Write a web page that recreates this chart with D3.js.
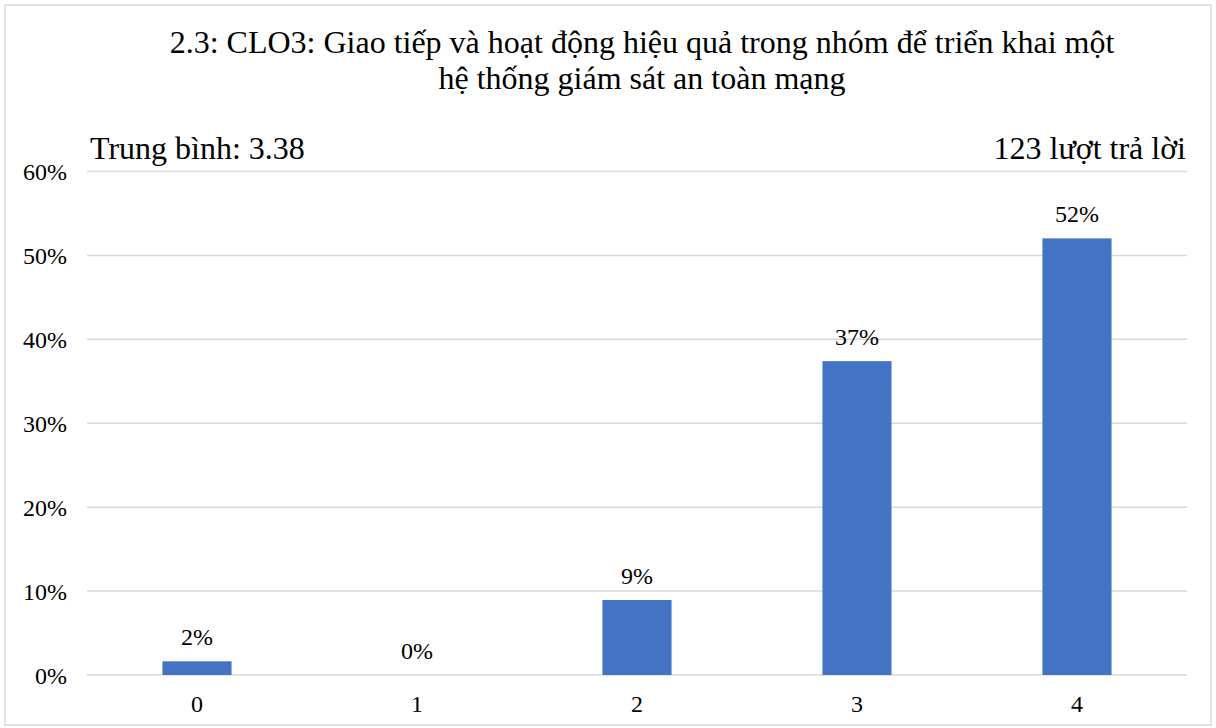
<!DOCTYPE html>
<html>
<head>
<meta charset="utf-8">
<script src="https://cdn.jsdelivr.net/npm/d3@7"></script>
<style>
  html, body { margin: 0; padding: 0; background: #fff; }
  svg { display: block; }
  svg text { font-family: 'Liberation Serif', 'DejaVu Serif', serif; }
</style>
</head>
<body>
<div id="chart"></div>
<script>
// survey answers 0..4, share of 123 responses (%)
const categories = ['0', '1', '2', '3', '4'];
const values = [1.63, 0, 8.94, 37.40, 52.03];
const valueLabels = ['2%', '0%', '9%', '37%', '52%'];
const yTicks = [0, 10, 20, 30, 40, 50, 60];
const titleLines = ['2.3: CLO3: Giao tiếp và hoạt động hiệu quả trong nhóm để triển khai một', 'hệ thống giám sát an toàn mạng'];
const leftNote = 'Trung bình: 3.38';
const rightNote = '123 lượt trả lời';

(function(){
  const W = 1216, H = 728;
  const FONT = "'Liberation Serif', 'DejaVu Serif', serif";
  const m = {left: 87, right: 1187, top: 171.5, bottom: 675};
  const svg = d3.select('#chart').append('svg').attr('width', W).attr('height', H)
    .attr('font-family', FONT);

  // outer frame
  svg.append('rect').attr('x', 5).attr('y', 5).attr('width', W - 10).attr('height', H - 8)
    .attr('fill', '#fff').attr('stroke', '#d9d9d9').attr('stroke-width', 1.5);

  const x = d3.scaleBand().domain(categories).range([m.left, m.right]).paddingInner(0.686).paddingOuter(0.343);
  const y = d3.scaleLinear().domain([0, 60]).range([m.bottom, m.top]);

  // gridlines
  svg.append('g').selectAll('line').data(yTicks).enter().append('line')
    .attr('x1', m.left).attr('x2', m.right)
    .attr('y1', d => y(d)).attr('y2', d => y(d))
    .attr('stroke', '#d9d9d9').attr('stroke-width', 1.5);

  // y labels
  svg.append('g').selectAll('text').data(yTicks).enter().append('text')
    .attr('x', 67).attr('y', d => y(d) + 8.5)
    .attr('text-anchor', 'end').attr('font-size', 24).attr('fill', '#000')
    .text(d => d + '%');

  // bars
  svg.append('g').selectAll('rect').data(values).enter().append('rect')
    .attr('x', (d, i) => x(categories[i])).attr('width', x.bandwidth())
    .attr('y', d => y(d)).attr('height', d => y(0) - y(d))
    .attr('fill', '#4472c4');

  // value labels
  svg.append('g').selectAll('text').data(values).enter().append('text')
    .attr('x', (d, i) => x(categories[i]) + x.bandwidth() / 2)
    .attr('y', d => y(d) - 16)
    .attr('text-anchor', 'middle').attr('font-size', 24).attr('fill', '#000')
    .text((d, i) => valueLabels[i]);

  // x labels
  svg.append('g').selectAll('text').data(categories).enter().append('text')
    .attr('x', d => x(d) + x.bandwidth() / 2).attr('y', 712)
    .attr('text-anchor', 'middle').attr('font-size', 24).attr('fill', '#000')
    .text(d => d);

  // title
  svg.append('g').selectAll('text').data(titleLines).enter().append('text')
    .attr('x', 642).attr('y', (d, i) => 53 + i * 35.5)
    .attr('text-anchor', 'middle').attr('font-size', 32).attr('fill', '#000')
    .text(d => d);

  svg.append('text').attr('x', 90).attr('y', 159).attr('font-size', 32).attr('fill', '#000').text(leftNote);
  svg.append('text').attr('x', 1186).attr('y', 159).attr('text-anchor', 'end').attr('font-size', 32).attr('fill', '#000').text(rightNote);
})();
</script>
</body>
</html>
